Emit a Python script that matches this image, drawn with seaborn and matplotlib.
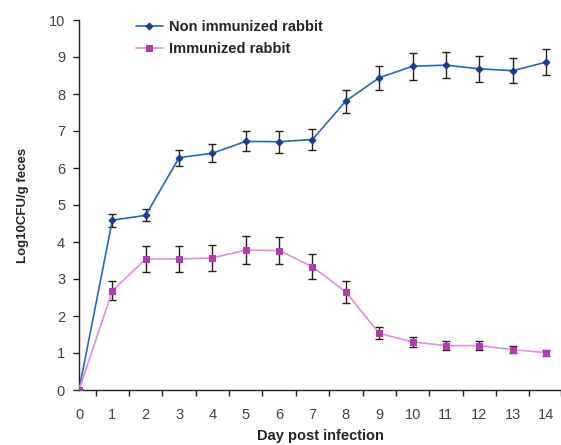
import matplotlib
matplotlib.use("Agg")
import matplotlib.pyplot as plt
import seaborn as sns
import numpy as np
import pandas as pd

days = list(range(15))
non_immunized = [0, 4.59, 4.72, 6.28, 6.40, 6.72, 6.71, 6.77, 7.81, 8.44, 8.75, 8.78, 8.68, 8.63, 8.86]
non_immunized_err = [0, 0.18, 0.16, 0.22, 0.25, 0.27, 0.30, 0.28, 0.31, 0.33, 0.36, 0.35, 0.36, 0.34, 0.35]
immunized = [0, 2.68, 3.54, 3.54, 3.57, 3.78, 3.77, 3.33, 2.65, 1.53, 1.30, 1.20, 1.20, 1.09, 1.01]
immunized_err = [0, 0.26, 0.35, 0.35, 0.35, 0.38, 0.37, 0.34, 0.29, 0.16, 0.14, 0.12, 0.12, 0.10, 0.08]
series_names = ["Non immunized rabbit", "Immunized rabbit"]

sns.set_style("ticks")
plt.rcParams['font.family'] = ['Liberation Sans', 'DejaVu Sans']

df = pd.DataFrame({
    "day": days * 2,
    "value": non_immunized + immunized,
    "err": non_immunized_err + immunized_err,
    "group": [series_names[0]] * len(days) + [series_names[1]] * len(days),
})

fig = plt.figure(figsize=(5.61, 4.45), dpi=100)
ax = fig.add_axes([79 / 561, 55 / 445, 482 / 561, 370 / 445])

line_colors = {series_names[0]: "#2a64c8", series_names[1]: "#e08ee0"}
marker_colors = {series_names[0]: "#1a3c8c", series_names[1]: "#b03cb0"}
markers = {series_names[0]: "D", series_names[1]: "s"}
msizes = {series_names[0]: 3.5, series_names[1]: 4.5}

for name in series_names:
    sub = df[df["group"] == name]
    ax.errorbar(sub["day"], sub["value"], yerr=sub["err"], fmt="none",
                ecolor="#2a2018", elinewidth=1.0, capsize=3.2, capthick=1.0, zorder=2)
    sns.lineplot(data=sub, x="day", y="value", ax=ax, color=line_colors[name],
                 marker=markers[name], markersize=msizes[name],
                 markerfacecolor=marker_colors[name], markeredgecolor=marker_colors[name],
                 linewidth=1.2, label=name, zorder=3)

ax.set_xlim(0, 14.45)
ax.set_ylim(0, 10)
ax.set_yticks(range(0, 11))
ax.set_xticks(days)
ax.set_xticks([d + 0.5 for d in days[:-1]] + [14.45], minor=True)
ax.tick_params(axis="x", which="major", length=0, pad=13, labelsize=10.5, labelcolor="#444444")
ax.tick_params(axis="x", which="minor", length=4, width=1, color="#2a2018", direction="out")
ax.tick_params(axis="y", which="major", length=4, width=1, color="#2a2018", direction="out",
               labelsize=10.5, labelcolor="#444444", pad=6)

for s in ["top", "right"]:
    ax.spines[s].set_visible(False)
for s in ["left", "bottom"]:
    ax.spines[s].set_color("#2a2018")
    ax.spines[s].set_linewidth(1.0)

ax.set_xlabel("Day post infection", fontsize=10.5, fontweight="bold", labelpad=5)
ax.set_ylabel("Log10CFU/g feces", fontsize=9.5, fontweight="bold", labelpad=14)

leg = ax.legend(loc="upper left", bbox_to_anchor=(0.09, 1.035), frameon=False,
                prop={"weight": "bold", "size": 10.5}, handlelength=1.9,
                handletextpad=0.4, labelspacing=0.55)

fig.savefig("out.png", dpi=100)
